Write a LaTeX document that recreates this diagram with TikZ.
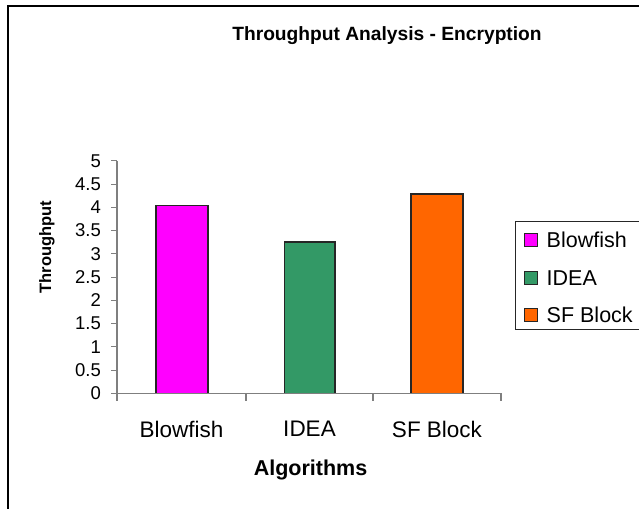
\documentclass[tikz,border=0pt]{standalone}
\usepackage{fontspec}
\setmainfont{Liberation Sans}
\definecolor{barmagenta}{HTML}{FF00FF}
\definecolor{bargreen}{HTML}{339966}
\definecolor{barorange}{HTML}{FF6600}
\definecolor{axisgray}{HTML}{7F7F7F}
\newcommand{\fsz}[1]{\fontsize{#1}{#1}\selectfont}
\tikzset{
  axisline/.style={draw=axisgray, line width=1.1pt},
  barbox/.style={draw=black!85, line width=1.3pt},
  keybox/.style={draw=black!85, line width=1pt, minimum size=13pt, inner sep=0pt},
  ytick/.style={anchor=east, inner sep=0pt, font=\fsz{18.5}},
  xtick/.style={anchor=center, inner sep=0pt, font=\fsz{22.5}},
  keylabel/.style={anchor=west, inner sep=0pt, font=\fsz{21.5}},
}
\begin{document}
\begin{tikzpicture}[x=1pt, y=-1pt]
\useasboundingbox (0,0) rectangle (639,508);
\clip (0,0) rectangle (639,508);
\fill[white] (0,0) rectangle (639,508);
% chart frame
\draw[black, line width=1.3pt] (8,6) rectangle (700,560);
% title
\node[font=\bfseries\fsz{19.2}, inner sep=0pt] (title) at (387,36) {Throughput Analysis - Encryption};
% bars (value 0 at y=393.3, 46.8 per unit)
\path[barbox, fill=barmagenta] (156,393.3) rectangle (208,205.8);
\path[barbox, fill=bargreen] (284.5,393.3) rectangle (335,242);
\path[barbox, fill=barorange] (411,393.3) rectangle (463,194);
% axes
\coordinate (ytop) at (117,160.9);
\coordinate (ybot) at (117,401);
\coordinate (xleft) at (111,393.3);
\coordinate (xright) at (501,393.3);
\draw[axisline] (ytop) -- (ybot);
\draw[axisline] (xleft) -- (xright);
\foreach \v [count=\i from 0] in {0,0.5,1,1.5,2,2.5,3,3.5,4,4.5,5} {
  \draw[axisline] (111,{393.3-23.24*\i}) -- (117,{393.3-23.24*\i});
  \node[ytick] (yt\i) at (101,{393.3-23.24*\i}) {\v};
}
\foreach \xx in {246,373,501} {
  \draw[axisline] (\xx,393.3) -- (\xx,401);
}
% category labels
\node[xtick] (cat1) at (181.5,429) {Blowfish};
\node[xtick] (cat2) at (309.5,429) {IDEA};
\node[xtick] (cat3) at (437,429) {SF Block};
% axis titles
\node[font=\bfseries\fsz{21.5}, inner sep=0pt] (xtitle) at (310.5,470) {Algorithms};
\node[font=\bfseries\fsz{16.5}, inner sep=0pt, rotate=90] (ytitle) at (47,247) {Throughput};
% legend
\draw[black!85, line width=1pt, fill=white] (515,221) rectangle (700,329);
\node[keybox, fill=barmagenta] (k1) at (530.5,240) {};
\node[keybox, fill=bargreen] (k2) at (530.5,277.7) {};
\node[keybox, fill=barorange] (k3) at (530.5,315) {};
\node[keylabel] (l1) at (546.5,240) {Blowfish};
\node[keylabel] (l2) at (546.5,277.7) {IDEA};
\node[keylabel] (l3) at (546.5,315) {SF Block};
\end{tikzpicture}
\end{document}
